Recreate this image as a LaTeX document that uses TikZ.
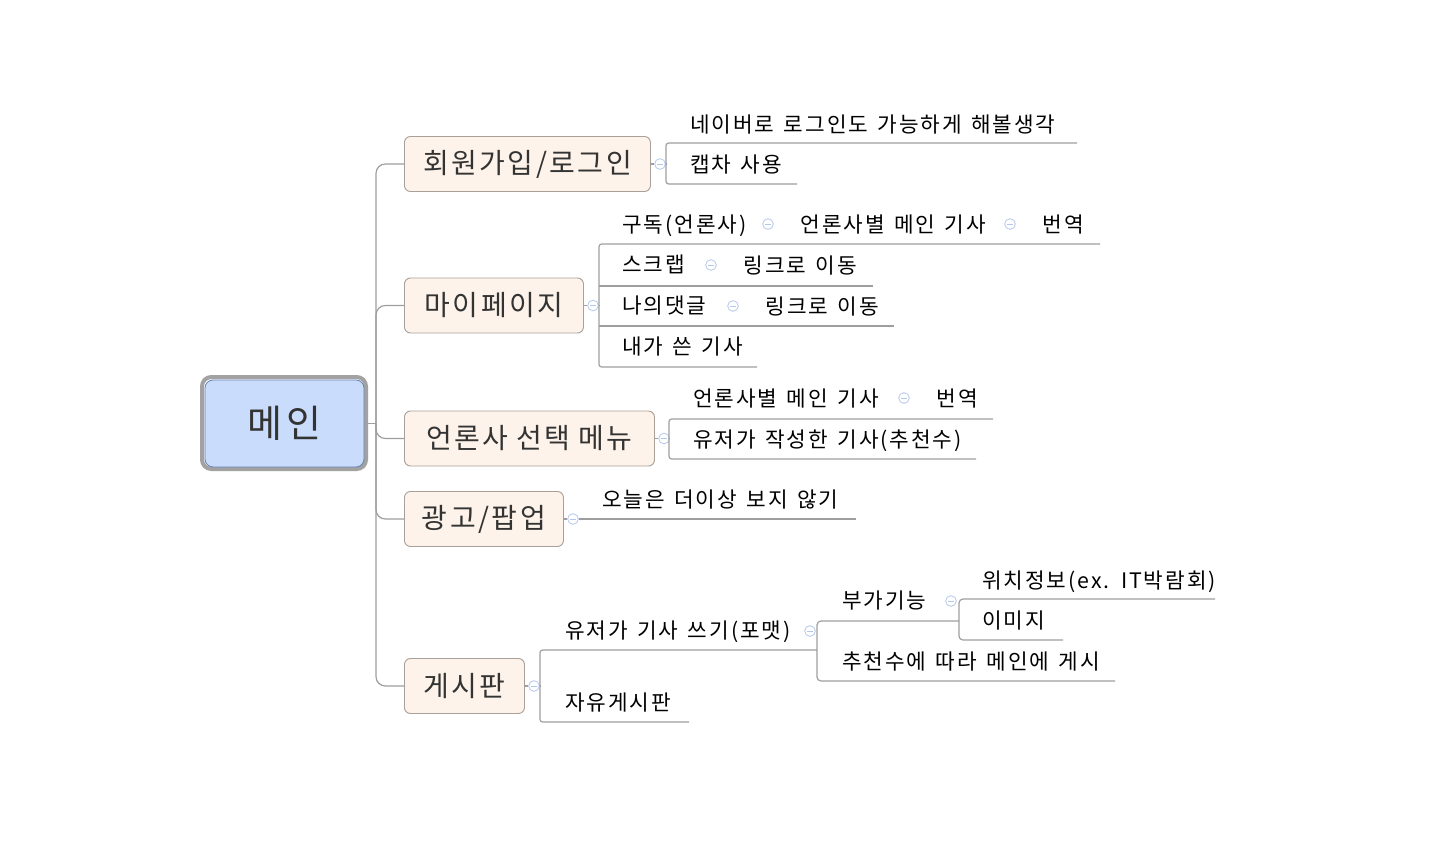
\documentclass[tikz,border=0pt]{standalone}
\usepackage{fontspec}
\setmainfont{Noto Sans CJK KR}[LetterSpace=9, WordSpace=1.4]
\newfontfamily\branchfam{Noto Sans CJK KR}[LetterSpace=9, WordSpace=0.9]
\usepackage{tikz}
\usetikzlibrary{positioning}
\definecolor{linegray}{HTML}{9E9E9E}
\definecolor{framegray}{HTML}{A2A2A2}
\definecolor{rootfill}{HTML}{C9DCFB}
\definecolor{rootedge}{HTML}{6680B2}
\definecolor{branchfill}{HTML}{FDF3EA}
\definecolor{branchedge}{HTML}{A8A099}
\definecolor{foldblue}{HTML}{B4C7EC}
\definecolor{textdark}{HTML}{333333}
\newcommand{\rootfont}{\branchfam\fontsize{28.5pt}{33pt}\selectfont}
\newcommand{\branchfont}{\branchfam\fontsize{21pt}{25pt}\selectfont}
\newcommand{\leaffont}{\fontsize{16pt}{19pt}\selectfont}
\tikzstyle{rootframe} = [rectangle, draw=framegray, line width=3pt,
    rounded corners=7pt, minimum width=123pt, minimum height=69pt]
\tikzstyle{root} = [rectangle, draw=rootedge, fill=rootfill, line width=0.6pt,
    rounded corners=6pt, minimum width=119.25pt, minimum height=65.25pt,
    font=\rootfont, text=textdark]
\tikzstyle{branch} = [rectangle, draw=branchedge, fill=branchfill, line width=0.7pt,
    rounded corners=4.5pt, minimum height=41.25pt, anchor=west,
    font=\branchfont, text=textdark]
\tikzstyle{leaf} = [anchor=west, inner sep=0pt, text height=15pt, text depth=1.9pt,
    font=\leaffont]
\tikzstyle{fold} = [circle, draw=foldblue, fill=white, line width=0.6pt,
    minimum size=8pt, inner sep=0pt,
    path picture={\draw[foldblue, line width=0.7pt]
      ([xshift=-2.2pt]path picture bounding box.center) --
      ([xshift=2.2pt]path picture bounding box.center);}]
\tikzstyle{link} = [draw=linegray, line width=0.9pt]

\begin{document}
\begin{tikzpicture}[x=0.75pt,y=-0.75pt]
    \useasboundingbox (0,0) rectangle (1434,846);

    \node[rootframe] (frame) at (284,423) {};
    \node[root] (main) at (284.5,423.5) {메인};
    \coordinate (spine) at (376,0);

    \node[branch, minimum width=184.5pt] (login) at (404,164) {회원가입/로그인};
    \node[branch, minimum width=134.25pt] (mypage) at (404,305.5) {마이페이지};
    \node[branch, minimum width=187.5pt] (press) at (404,438.5) {언론사 선택 메뉴};
    \node[branch, minimum width=119.25pt] (ads) at (404,519) {광고/팝업};
    \node[branch, minimum width=90pt] (board) at (404,686) {게시판};

    \draw[link] (main.east) -- (main.east -| spine);
    \draw[link, rounded corners=7pt] (main.east -| spine) |- (login.west);
    \draw[link, rounded corners=7pt] (main.east -| spine) |- (mypage.west);
    \draw[link, rounded corners=7pt] (main.east -| spine) |- (press.west);
    \draw[link, rounded corners=7pt] (main.east -| spine) |- (ads.west);
    \draw[link, rounded corners=7pt] (main.east -| spine) |- (board.west);

    \node[fold, right=2.5pt of login] (foldlogin) {};
    \node[fold, right=2.5pt of mypage] (foldmypage) {};
    \node[fold, right=2.5pt of press] (foldpress) {};
    \node[fold, right=2.5pt of ads] (foldads) {};
    \node[fold, right=2.5pt of board] (foldboard) {};
    \draw[link] (login.east) -- (foldlogin.west);
    \draw[link] (mypage.east) -- (foldmypage.west);
    \draw[link] (press.east) -- (foldpress.west);
    \draw[link] (ads.east) -- (foldads.west);
    \draw[link] (board.east) -- (foldboard.west);

    % 회원가입/로그인
    \coordinate (logintop) at (666,143);
    \coordinate (loginbot) at (666,184);
    \coordinate (naverend) at (1077,143);
    \coordinate (captchaend) at (797,184);
    \draw[link] (foldlogin.east) -- (foldlogin.east -| logintop);
    \draw[link, rounded corners=2pt] (naverend) -- (logintop) -- (loginbot) -- (captchaend);
    \node[leaf] (naver) at (690,124) {네이버로 로그인도 가능하게 해볼생각};
    \node[leaf] (captcha) at (690,164) {캡차 사용};

    % 마이페이지
    \coordinate (mypagetop) at (599,244);
    \coordinate (mypagebot) at (599,367);
    \coordinate (subend) at (1100,244);
    \coordinate (scrapstart) at (599,286);
    \coordinate (scrapend) at (873,286);
    \coordinate (replystart) at (599,326);
    \coordinate (replyend) at (894,326);
    \coordinate (mineend) at (757,367);
    \draw[link] (foldmypage.east) -- (foldmypage.east -| mypagetop);
    \draw[link, rounded corners=2pt] (subend) -- (mypagetop) -- (mypagebot) -- (mineend);
    \draw[link] (scrapstart) -- (scrapend);
    \draw[link] (replystart) -- (replyend);

    \node[leaf] (subscribe) at (622,224) {구독(언론사)};
    \node[fold] (foldsub) at (768,224) {};
    \node[leaf, right=20pt of foldsub] (pressmain) {언론사별 메인 기사};
    \node[fold] (foldpressmain) at (1010,224) {};
    \node[leaf, right=20pt of foldpressmain] (translate) {번역};
    \node[leaf] (scrap) at (622,264) {스크랩};
    \node[fold] (foldscrap) at (711,265) {};
    \node[leaf, right=20pt of foldscrap] (scraplink) {링크로 이동};
    \node[leaf] (reply) at (622,305) {나의댓글};
    \node[fold] (foldreply) at (733,306) {};
    \node[leaf, right=20pt of foldreply] (replylink) {링크로 이동};
    \node[leaf] (mine) at (622,346) {내가 쓴 기사};

    % 언론사 선택 메뉴
    \coordinate (presstop) at (669,419);
    \coordinate (pressbot) at (669,459);
    \coordinate (pressmainend) at (993,419);
    \coordinate (userartend) at (976,459);
    \draw[link] (foldpress.east) -- (foldpress.east -| presstop);
    \draw[link, rounded corners=2pt] (pressmainend) -- (presstop) -- (pressbot) -- (userartend);
    \node[leaf] (pressmain2) at (693,398) {언론사별 메인 기사};
    \node[fold] (foldpressmain2) at (904,398) {};
    \node[leaf, right=20pt of foldpressmain2] (translate2) {번역};
    \node[leaf] (userart) at (693,439) {유저가 작성한 기사(추천수)};

    % 광고/팝업
    \coordinate (todayend) at (856,519);
    \draw[link] (foldads.east) -- (todayend);
    \node[leaf] (today) at (602,499) {오늘은 더이상 보지 않기};

    % 게시판
    \coordinate (boardtop) at (540,650);
    \coordinate (boardbot) at (540,722);
    \coordinate (writetop) at (817,621);
    \coordinate (writebot) at (817,681);
    \coordinate (writeend) at (817,650);
    \coordinate (freeend) at (689,722);
    \coordinate (extratop) at (959,599);
    \coordinate (extrabot) at (959,640);
    \coordinate (extraend) at (959,621);
    \coordinate (recend) at (1115,681);
    \coordinate (locend) at (1215,599);
    \coordinate (imgend) at (1063,640);
    \draw[link] (foldboard.east) -- (foldboard.east -| boardtop);
    \draw[link, rounded corners=2pt] (writeend) -- (boardtop) -- (boardbot) -- (freeend);
    \draw[link, rounded corners=3pt] (extraend) -- (writetop) -- (writebot) -- (recend);
    \draw[link, rounded corners=3pt] (locend) -- (extratop) -- (extrabot) -- (imgend);

    \node[leaf] (write) at (565,630) {유저가 기사 쓰기(포맷)};
    \node[fold] (foldwrite) at (810,631) {};
    \node[leaf] (free) at (565,702) {자유게시판};
    \node[leaf] (extra) at (842,600) {부가기능};
    \node[fold] (foldextra) at (951,601) {};
    \node[leaf] (location) at (982,580) {위치정보(ex. IT박람회)};
    \node[leaf] (image) at (982,620) {이미지};
    \node[leaf] (recommend) at (842,661) {추천수에 따라 메인에 게시};
\end{tikzpicture}
\end{document}
